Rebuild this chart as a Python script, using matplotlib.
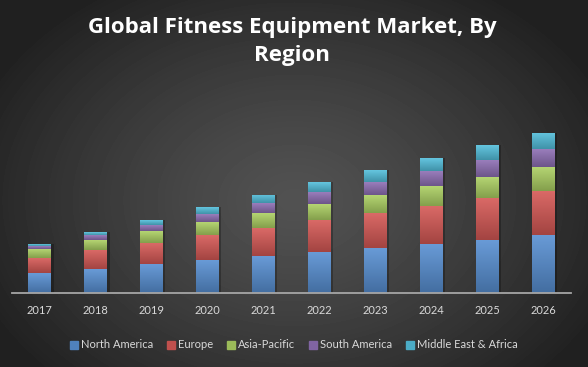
import numpy as np
import matplotlib.pyplot as plt
from matplotlib.colors import to_rgb
from matplotlib.patches import Patch, Rectangle

# values (arbitrary units, stacked)
years = ["2017", "2018", "2019", "2020", "2021", "2022", "2023", "2024", "2025", "2026"]
north_america = [20, 24, 29, 33, 37, 41, 45, 49, 53, 58]
europe = [15, 19, 21, 25, 28, 32, 35, 38, 42, 44]
asia_pacific = [9, 10, 12, 13, 15, 16, 18, 20, 21, 24]
south_america = [3, 5, 6, 8, 9.7, 12, 13, 15, 17, 17.7]
middle_east_africa = [2, 3, 5, 7, 8.3, 10, 12, 13, 15, 16.3]

series = [
    ("North America", north_america, "#4f81bd"),
    ("Europe", europe, "#c0504d"),
    ("Asia-Pacific", asia_pacific, "#9bbb59"),
    ("South America", south_america, "#8064a2"),
    ("Middle East & Africa", middle_east_africa, "#4bacc6"),
]

plt.rcParams["font.family"] = ["Lato", "DejaVu Sans"]

W, H = 588, 367
fig = plt.figure(figsize=(W / 100, H / 100), dpi=100)

# dark radial background
bg = fig.add_axes([0, 0, 1, 1])
bg.axis("off")
yy, xx = np.mgrid[0:H, 0:W]
r = np.sqrt(((xx - 294) / 340.0) ** 2 + ((yy - 200) / 250.0) ** 2)
shade = 0.32 - 0.19 * np.clip(r, 0, 1) ** 1.3
bg.imshow(shade, cmap="gray", vmin=0, vmax=1, extent=[0, 1, 0, 1], aspect="auto")
bg.set_xlim(0, 1)
bg.set_ylim(0, 1)

ax = fig.add_axes([12 / W, (H - 293) / H, 559 / W, 203 / H])
ax.set_facecolor("none")

x = np.arange(len(years))
width = 0.41
bottom = np.zeros(len(years))
totals = np.sum([s[1] for s in series], axis=0)

# soft shadow on the right of each bar
for xi, t in zip(x, totals):
    ax.add_patch(Rectangle((xi - width / 2 + 0.04, 0), width, t, color="black",
                           alpha=0.25, lw=0, zorder=1))

for name, vals, col in series:
    bars = ax.bar(x, vals, width, bottom=bottom, color=col, label=name, zorder=2)
    base = np.array(to_rgb(col))
    light = np.clip(base + 0.10, 0, 1)
    dark = base * 0.85
    grad = np.linspace(0, 1, 64)[:, None, None]
    img = light * (1 - grad) + dark * grad
    for b in bars:
        x0, y0 = b.get_x(), b.get_y()
        im = ax.imshow(img, extent=[x0, x0 + b.get_width(), y0, y0 + b.get_height()],
                       aspect="auto", zorder=3, interpolation="bilinear")
        im.set_clip_path(b)
    bottom += np.array(vals)

ax.set_xlim(-0.5, len(years) - 0.5)
ax.set_ylim(0, 203)
ax.set_yticks([])
ax.set_xticks(x)
ax.set_xticklabels(years, fontsize=8, color="#d9d9d9")
ax.tick_params(axis="x", length=0, pad=9)
for s in ["top", "right", "left"]:
    ax.spines[s].set_visible(False)
ax.spines["bottom"].set_color("#a6a6a6")
ax.spines["bottom"].set_linewidth(1.3)
ax.spines["bottom"].set_zorder(5)

title_x = 292 / W
title_font = dict(fontsize=16, fontweight="bold", color="white", family=["Open Sans", "DejaVu Sans"])
fig.text(title_x, 1 - 28 / H, "Global Fitness Equipment Market, By", ha="center", va="center",
         **title_font)
fig.text(title_x, 1 - 56 / H, "Region", ha="center", va="center", **title_font)

handles = [Patch(color=c, label=n) for n, _, c in series]
fig.legend(handles=handles, loc="center", bbox_to_anchor=(0.5, (H - 345) / H), ncol=5,
           frameon=False, fontsize=8, labelcolor="#d9d9d9", handlelength=0.7,
           handleheight=0.7, handletextpad=0.3, columnspacing=1.25)

fig.savefig("out.png", dpi=100)
